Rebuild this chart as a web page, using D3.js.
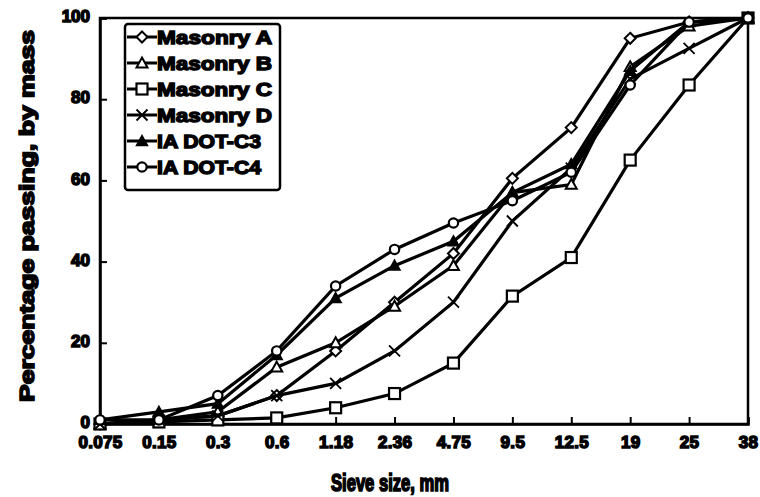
<!DOCTYPE html>
<html><head><meta charset="utf-8">
<script src="https://cdn.jsdelivr.net/npm/d3@7"></script>
<style>body{margin:0;background:#fff}text{font-family:"Liberation Sans",Arial,sans-serif;font-weight:bold}</style>
</head><body><svg id="c" width="760" height="497"></svg>
<script>
const sieves = ["0.075","0.15","0.3","0.6","1.18","2.36","4.75","9.5","12.5","19","25","38"];
const yTicks = [0,20,40,60,80,100];
const masonryA = [0,1,2,7,18,30,42,60.5,73,95,99,100];
const masonryB = [0,1,3,14,20,29,39,57,59,88,98,100];
const masonryC = [0,0.5,1,1.5,4,7.5,15,31.5,41,65,83.5,100];
const masonryD = [0,1,2,7,10,18,30,50,63,85,92.5,100];
const iaC3 = [1,3,5,17,31,39,45,57,64,87,99,100];
const iaC4 = [1,1,7,18,34,43,49.5,55,62,83.5,99,100];
const seriesNames = ["Masonry A","Masonry B","Masonry C","Masonry D","IA DOT-C3","IA DOT-C4"];
const seriesVals = [masonryA,masonryB,masonryC,masonryD,iaC3,iaC4];
const markers = ["diamond","triangle","square","cross","triangleFilled","circle"];

const svg = d3.select("#c");
const L=100,R=748,T=18,B=424;
const x = d3.scalePoint().domain(sieves).range([L,R]);
const y = d3.scaleLinear().domain([0,100]).range([B,T]);

svg.append("rect").attr("x",L).attr("y",T).attr("width",R-L).attr("height",B-T)
  .attr("fill","none").attr("stroke","#000").attr("stroke-width",2.5);

const xAxis = svg.append("g").attr("transform",`translate(0,${B})`)
  .call(d3.axisBottom(x).tickSize(-7).tickPadding(12));
const yAxis = svg.append("g").attr("transform",`translate(${L},0)`)
  .call(d3.axisLeft(y).tickValues(yTicks).tickSize(-7).tickPadding(10));
[xAxis,yAxis].forEach(a=>{
  a.select(".domain").attr("stroke-width",2.5);
  a.selectAll(".tick line").attr("stroke-width",2);
  a.selectAll("text").attr("font-size",17).attr("fill","#000").attr("stroke","#000").attr("stroke-width",1.5);
});
xAxis.selectAll("text").attr("letter-spacing",0.3);
yAxis.selectAll("text").attr("dy","0.22em");

svg.append("text").attr("x",331).attr("y",491)
  .attr("font-size",23).attr("stroke","#000").attr("stroke-width",1.7)
  .attr("textLength",118).attr("lengthAdjust","spacingAndGlyphs").text("Sieve size, mm");
svg.append("text").attr("transform","translate(34,402) rotate(-90)")
  .attr("font-size",21).attr("stroke","#000").attr("stroke-width",1.6)
  .attr("textLength",372).attr("lengthAdjust","spacingAndGlyphs").text("Percentage passing, by mass");

function drawMarker(g,type,cx,cy){
  const s=5.5;
  if(type==="diamond") g.append("path").attr("d",`M${cx},${cy-s}L${cx+s},${cy}L${cx},${cy+s}L${cx-s},${cy}Z`).attr("fill","#fff").attr("stroke","#000").attr("stroke-width",2);
  else if(type==="triangle") g.append("path").attr("d",`M${cx},${cy-s}L${cx+s},${cy+s*0.8}L${cx-s},${cy+s*0.8}Z`).attr("fill","#fff").attr("stroke","#000").attr("stroke-width",2);
  else if(type==="triangleFilled") g.append("path").attr("d",`M${cx},${cy-s}L${cx+s},${cy+s*0.8}L${cx-s},${cy+s*0.8}Z`).attr("fill","#000").attr("stroke","#000").attr("stroke-width",1.5);
  else if(type==="square") g.append("rect").attr("x",cx-s).attr("y",cy-s).attr("width",2*s).attr("height",2*s).attr("fill","#fff").attr("stroke","#000").attr("stroke-width",2.2);
  else if(type==="circle") g.append("circle").attr("cx",cx).attr("cy",cy).attr("r",s*0.85).attr("fill","#fff").attr("stroke","#000").attr("stroke-width",2.2);
  else if(type==="cross") g.append("path").attr("d",`M${cx-s},${cy-s}L${cx+s},${cy+s}M${cx-s},${cy+s}L${cx+s},${cy-s}`).attr("stroke","#000").attr("stroke-width",1.8);
}

const line = d3.line().x((d,i)=>x(sieves[i])).y(d=>y(d));
seriesVals.forEach((vals,k)=>{
  const g=svg.append("g");
  g.append("path").attr("d",line(vals)).attr("fill","none").attr("stroke","#000").attr("stroke-width",3.2);
  vals.forEach((v,i)=>drawMarker(g,markers[k],x(sieves[i]),y(v)));
});

const lg = svg.append("g");
lg.append("rect").attr("x",125).attr("y",24).attr("width",155).attr("height",166).attr("rx",3)
  .attr("fill","#fff").attr("stroke","#000").attr("stroke-width",2.5);
const legendLen=[115,115,115,115,104,104];
seriesNames.forEach((n,k)=>{
  const cy=37+k*26;
  lg.append("line").attr("x1",127).attr("x2",157).attr("y1",cy).attr("y2",cy).attr("stroke","#000").attr("stroke-width",3);
  drawMarker(lg,markers[k],142,cy);
  lg.append("text").attr("x",157).attr("y",cy+7).attr("font-size",19).attr("stroke","#000").attr("stroke-width",1.4)
    .attr("textLength",legendLen[k]).attr("lengthAdjust","spacingAndGlyphs").text(n);
});
</script></body></html>
